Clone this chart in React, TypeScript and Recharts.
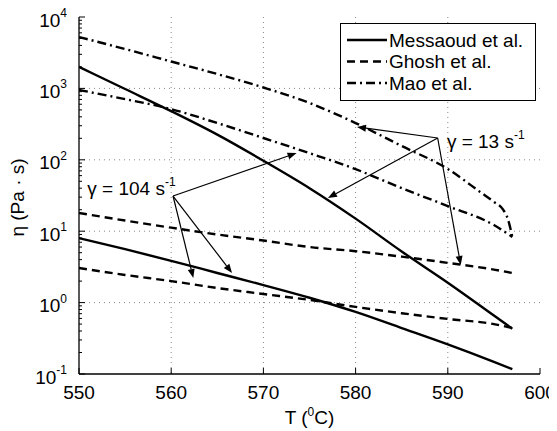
import React from 'react';
import {
  LineChart,
  Line,
  XAxis,
  YAxis,
  CartesianGrid,
  ReferenceLine,
  ReferenceDot,
  Legend,
} from 'recharts';

const FONT = '"Liberation Sans", Arial, Helvetica, sans-serif';

// Temperatures (°C) at which the curves were read
const temps = [550, 555, 560, 565, 570, 575, 580, 585, 590, 595, 597];
const maoTemps13 = [550, 555, 560, 565, 570, 575, 580, 585, 590, 593.5, 595, 596, 596.5, 597];

// Viscosity (Pa·s)
const messaoud13 = [2000, 980, 480, 225, 97, 40, 15, 5.2, 1.9, 0.66, 0.43];
const messaoud104 = [8.0, 5.6, 3.85, 2.6, 1.76, 1.17, 0.74, 0.44, 0.26, 0.148, 0.117];
const ghosh13 = [18, 14.1, 11.2, 9.0, 7.4, 6.0, 5.25, 4.4, 3.6, 2.9, 2.6];
const ghosh104 = [3.05, 2.44, 2.0, 1.6, 1.32, 1.09, 0.87, 0.71, 0.59, 0.5, 0.44];
const mao13 = [5250, 3560, 2380, 1590, 1030, 625, 327, 156, 74.3, 35.5, 25.7, 20, 15, 8.3];
const mao104 = [950, 708, 513, 327, 202, 124, 74, 40, 22.5, 12.2, 8.3];

// Axes
const xTicks = [550, 560, 570, 580, 590, 600];
const xGrid = [560, 570, 580, 590];
const yMajor = [0.1, 1, 10, 100, 1000, 10000];
const yExp = ['-1', '0', '1', '2', '3', '4'];
const yGrid = [1, 10, 100, 1000];
const yMinor: number[] = [];
for (let d = 0; d < yMajor.length - 1; d++) {
  for (let m = 2; m <= 9; m++) yMinor.push(+(yMajor[d] * m).toPrecision(3));
}
const yTicks = [...yMajor, ...yMinor].sort((a, b) => a - b);

// Legend
const legendNames = ['Messaoud et al.', 'Ghosh et al.', 'Mao et al.'];
const legendDash = ['', '8 5', '9 4 2 4'];

// Annotations (data coordinates)
const gamma13Origin = { T: 588.9, v: 202 };
const gamma13Targets = [
  { T: 580.15, v: 288 },
  { T: 577.0, v: 29.2 },
  { T: 591.4, v: 3.37 },
];
const gamma104Origin = { T: 560.2, v: 31.1 };
const gamma104Targets = [
  { T: 573.6, v: 124.5 },
  { T: 562.4, v: 2.21 },
  { T: 566.6, v: 2.6 },
];
const gammaLabels = [
  { T: 589.9, v: 146, rate: '13' },
  { T: 550.9, v: 32, rate: '104' },
];

const toPts = (xs: number[], ys: number[]) => xs.map((T, i) => ({ T, v: ys[i] }));

const series = [
  { key: 'm13', data: toPts(temps, messaoud13), dash: undefined as string | undefined },
  { key: 'm104', data: toPts(temps, messaoud104), dash: undefined },
  { key: 'g13', data: toPts(temps, ghosh13), dash: legendDash[1] },
  { key: 'g104', data: toPts(temps, ghosh104), dash: legendDash[1] },
  { key: 'mao13', data: toPts(maoTemps13, mao13), dash: legendDash[2] },
  { key: 'mao104', data: toPts(temps, mao104), dash: legendDash[2] },
];

const isMajor = (v: number) => yMajor.indexOf(v) >= 0;

const LeftTick = (p: any) => {
  const v = p.payload.value;
  const idx = yMajor.indexOf(v);
  return (
    <g>
      <line x1={p.x} y1={p.y} x2={p.x + (idx >= 0 ? 6 : 3)} y2={p.y} stroke="#000" strokeWidth={1} />
      {idx >= 0 && (
        <text x={p.x - 12} y={p.y + 9.5} textAnchor="end" fontFamily={FONT} fontSize={19} fill="#000">
          10
          <tspan dy={-9.5} fontSize={12}>
            {yExp[idx]}
          </tspan>
        </text>
      )}
    </g>
  );
};

const RightTick = (p: any) => {
  const v = p.payload.value;
  return <line x1={p.x} y1={p.y} x2={p.x - (isMajor(v) ? 6 : 3)} y2={p.y} stroke="#000" strokeWidth={1} />;
};

const BottomTick = (p: any) => (
  <g>
    <line x1={p.x} y1={p.y} x2={p.x} y2={p.y - 6} stroke="#000" strokeWidth={1} />
    <text x={p.x} y={p.y + 24.5} textAnchor="middle" fontFamily={FONT} fontSize={19} fill="#000">
      {p.payload.value}
    </text>
  </g>
);

const TopTick = (p: any) => <line x1={p.x} y1={p.y} x2={p.x} y2={p.y + 6} stroke="#000" strokeWidth={1} />;

const XLabel = (p: any) => {
  const vb = p.viewBox;
  return (
    <text x={vb.x + vb.width / 2} y={vb.y + 50} textAnchor="middle" fontFamily={FONT} fontSize={19} fill="#000">
      T (<tspan dy={-8} fontSize={12}>0</tspan>
      <tspan dy={8}>C)</tspan>
    </text>
  );
};

const YLabel = (p: any) => {
  const vb = p.viewBox;
  const cx = vb.x + 16;
  const cy = vb.y + vb.height / 2 + 2;
  return (
    <text
      x={cx}
      y={cy}
      transform={`rotate(-90, ${cx}, ${cy})`}
      textAnchor="middle"
      fontFamily={FONT}
      fontSize={19}
      fill="#000"
    >
      η (Pa · s)
    </text>
  );
};

const Arrow = (p: any) => {
  const { x1, y1, x2, y2 } = p;
  const ang = Math.atan2(y2 - y1, x2 - x1);
  const L = 9;
  const W = 3.5;
  const bx = x2 - L * Math.cos(ang);
  const by = y2 - L * Math.sin(ang);
  const pts = `${x2},${y2} ${bx - W * Math.sin(ang)},${by + W * Math.cos(ang)} ${bx + W * Math.sin(ang)},${
    by - W * Math.cos(ang)
  }`;
  return (
    <g>
      <line x1={x1} y1={y1} x2={bx} y2={by} stroke="#000" strokeWidth={1.2} />
      <polygon points={pts} fill="#000" />
    </g>
  );
};

const gammaText = (rate: string) => (p: any) =>
  (
    <text x={p.cx} y={p.cy} fontFamily={FONT} fontSize={19} fill="#000">
      {`γ = ${rate} s`}
      <tspan dy={-9} fontSize={12}>
        -1
      </tspan>
    </text>
  );

const LegendBox = () => (
  <svg width={196} height={78} style={{ display: 'block' }}>
    <rect x={0.5} y={0.5} width={195} height={77} fill="#fff" stroke="#000" strokeWidth={1} />
    {legendNames.map((n, i) => {
      const y = 17 + i * 21.5;
      return (
        <g key={n}>
          <line
            x1={7}
            y1={y}
            x2={47}
            y2={y}
            stroke="#000"
            strokeWidth={2.4}
            strokeDasharray={legendDash[i] || undefined}
          />
          <text x={49} y={y + 6.5} fontFamily={FONT} fontSize={19} fill="#000">
            {n}
          </text>
        </g>
      );
    })}
  </svg>
);

export default function App() {
  return (
    <div style={{ margin: '-8px 0 0 -8px', width: 557, height: 431 }}>
      <LineChart width={557} height={431} margin={{ top: 17, right: 17, bottom: 0, left: 8 }}>
        <CartesianGrid
          xAxisId={0}
          yAxisId={0}
          horizontalValues={yGrid}
          verticalValues={xGrid}
          stroke="#888"
          strokeDasharray="1 4"
        />
        <XAxis
          xAxisId={0}
          type="number"
          dataKey="T"
          domain={[550, 600]}
          ticks={xTicks}
          interval={0}
          allowDataOverflow
          tickSize={0}
          tickMargin={0}
          tickLine={false}
          tick={BottomTick}
          axisLine={{ stroke: '#000', strokeWidth: 1.3 }}
          height={57}
          label={XLabel}
        />
        <XAxis
          xAxisId="top"
          orientation="top"
          type="number"
          domain={[550, 600]}
          ticks={xTicks}
          interval={0}
          allowDataOverflow
          tickSize={0}
          tickMargin={0}
          tickLine={false}
          tick={TopTick}
          axisLine={{ stroke: '#000', strokeWidth: 1.3 }}
          height={0}
        />
        <YAxis
          yAxisId={0}
          scale="log"
          type="number"
          domain={[0.1, 10000]}
          ticks={yTicks}
          interval={0}
          allowDataOverflow
          tickSize={0}
          tickMargin={0}
          tickLine={false}
          tick={LeftTick}
          axisLine={{ stroke: '#000', strokeWidth: 1.3 }}
          width={71}
          label={YLabel}
        />
        <YAxis
          yAxisId="right"
          orientation="right"
          scale="log"
          type="number"
          domain={[0.1, 10000]}
          ticks={yTicks}
          interval={0}
          allowDataOverflow
          tickSize={0}
          tickMargin={0}
          tickLine={false}
          tick={RightTick}
          axisLine={{ stroke: '#000', strokeWidth: 1.3 }}
          width={0}
        />
        {series.map((s) => (
          <Line
            key={s.key}
            data={s.data}
            dataKey="v"
            type="monotone"
            stroke="#000"
            strokeWidth={2.4}
            strokeDasharray={s.dash}
            dot={false}
            activeDot={false}
            isAnimationActive={false}
            legendType="none"
          />
        ))}
        {gamma13Targets.map((t, i) => (
          <ReferenceLine
            key={`a13-${i}`}
            ifOverflow="visible"
            segment={[
              { x: gamma13Origin.T, y: gamma13Origin.v },
              { x: t.T, y: t.v },
            ]}
            shape={Arrow}
          />
        ))}
        {gamma104Targets.map((t, i) => (
          <ReferenceLine
            key={`a104-${i}`}
            ifOverflow="visible"
            segment={[
              { x: gamma104Origin.T, y: gamma104Origin.v },
              { x: t.T, y: t.v },
            ]}
            shape={Arrow}
          />
        ))}
        {gammaLabels.map((g) => (
          <ReferenceDot key={g.rate} x={g.T} y={g.v} r={0} ifOverflow="visible" shape={gammaText(g.rate)} />
        ))}
        <Legend
          verticalAlign="middle"
          align="center"
          layout="horizontal"
          wrapperStyle={{ left: 340, top: 23, width: 196, height: 78 }}
          content={() => <LegendBox />}
        />
      </LineChart>
    </div>
  );
}
